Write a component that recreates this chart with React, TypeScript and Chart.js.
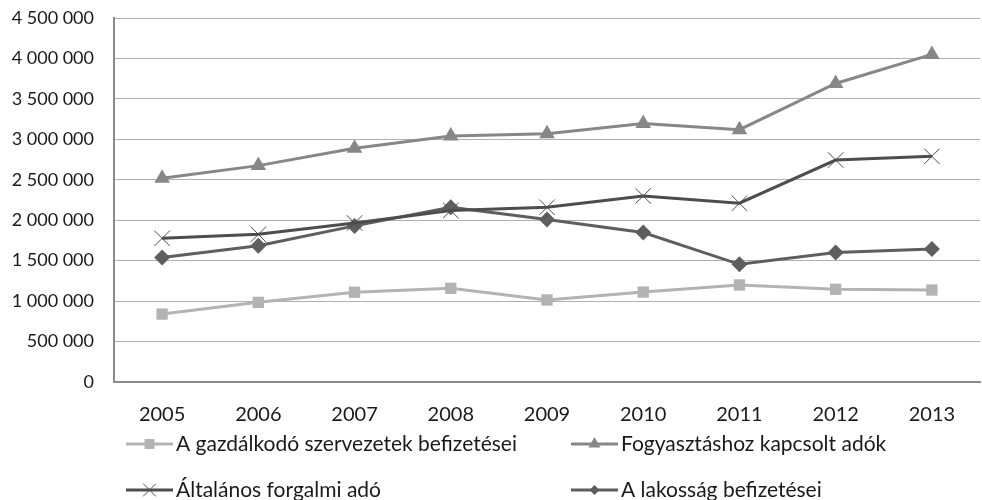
import React, { useEffect, useRef } from "react";
import { Chart, registerables } from "chart.js";

Chart.register(...registerables);

const years = ["2005", "2006", "2007", "2008", "2009", "2010", "2011", "2012", "2013"];
const gazdalkodo = [840000, 985000, 1110000, 1158000, 1014000, 1112000, 1200000, 1146000, 1137000];
const fogyasztas = [2520000, 2675000, 2890000, 3040000, 3070000, 3195000, 3120000, 3690000, 4050000];
const afa = [1776000, 1826000, 1965000, 2120000, 2160000, 2300000, 2210000, 2744000, 2790000];
const lakossag = [1540000, 1685000, 1930000, 2160000, 2010000, 1848000, 1455000, 1600000, 1645000];

const labels = [
  "A gazdálkodó szervezetek befizetései",
  "Fogyasztáshoz kapcsolt adók",
  "Általános forgalmi adó",
  "A lakosság befizetései",
];

const FONT = "Lato";

const fmt = (v: number) => String(v).replace(/\B(?=(\d{3})+(?!\d))/g, " ");

function drawPointShape(ctx: CanvasRenderingContext2D, style: string, x: number, y: number, r: number) {
  ctx.beginPath();
  if (style === "rect") {
    const s = r * Math.SQRT1_2;
    ctx.rect(x - s, y - s, 2 * s, 2 * s);
    ctx.fill();
  } else if (style === "triangle") {
    ctx.moveTo(x, y - r);
    ctx.lineTo(x + r * 0.866, y + r / 2);
    ctx.lineTo(x - r * 0.866, y + r / 2);
    ctx.closePath();
    ctx.fill();
  } else if (style === "rectRot") {
    const s = r * Math.SQRT1_2;
    ctx.moveTo(x - s, y);
    ctx.lineTo(x, y + s);
    ctx.lineTo(x + s, y);
    ctx.lineTo(x, y - s);
    ctx.closePath();
    ctx.fill();
  } else if (style === "crossRot") {
    const s = r * Math.SQRT1_2;
    ctx.moveTo(x - s, y - s);
    ctx.lineTo(x + s, y + s);
    ctx.moveTo(x - s, y + s);
    ctx.lineTo(x + s, y - s);
    ctx.stroke();
  }
}

const legendPlugin = {
  id: "gridLegend",
  afterDraw(chart: any) {
    const { ctx, chartArea } = chart;
    const cols = [chartArea.left + 12, chartArea.left + 457];
    const rows = [chartArea.bottom + 62, chartArea.bottom + 108];
    ctx.save();
    chart.data.datasets.forEach((ds: any, i: number) => {
      const x = cols[i % 2];
      const y = rows[Math.floor(i / 2)];
      const lineLen = 47;
      ctx.strokeStyle = ds.borderColor;
      ctx.lineWidth = 3;
      ctx.beginPath();
      ctx.moveTo(x, y);
      ctx.lineTo(x + lineLen, y);
      ctx.stroke();
      const style = ds.pointStyle;
      ctx.fillStyle = ds.pointBackgroundColor;
      ctx.strokeStyle = ds.pointBorderColor;
      ctx.lineWidth = 1;
      const r = style === "crossRot" ? 9 : 7;
      drawPointShape(ctx, style, x + lineLen / 2, y, r);
      ctx.fillStyle = "#1a1a1a";
      ctx.font = `21px ${FONT}`;
      ctx.textBaseline = "middle";
      ctx.textAlign = "left";
      ctx.fillText(ds.label, x + lineLen + 3, y);
    });
    ctx.restore();
  },
};

export default function App() {
  const ref = useRef<HTMLCanvasElement | null>(null);
  useEffect(() => {
    if (!ref.current) return;
    const chart = new Chart(ref.current, {
      type: "line",
      data: {
        labels: years,
        datasets: [
          {
            label: labels[0],
            data: gazdalkodo,
            borderColor: "#b3b3b3",
            backgroundColor: "#b3b3b3",
            pointBackgroundColor: "#b3b3b3",
            pointBorderColor: "#b3b3b3",
            pointStyle: "rect",
            pointRadius: 8,
            pointBorderWidth: 0,
            borderWidth: 3,
          },
          {
            label: labels[1],
            data: fogyasztas,
            borderColor: "#878787",
            backgroundColor: "#878787",
            pointBackgroundColor: "#878787",
            pointBorderColor: "#878787",
            pointStyle: "triangle",
            pointRadius: 9,
            pointBorderWidth: 0,
            borderWidth: 3,
          },
          {
            label: labels[2],
            data: afa,
            borderColor: "#4d4d4d",
            backgroundColor: "#4d4d4d",
            pointBackgroundColor: "#4d4d4d",
            pointBorderColor: "#4d4d4d",
            pointStyle: "crossRot",
            pointRadius: 11,
            pointBorderWidth: 1,
            borderWidth: 3,
          },
          {
            label: labels[3],
            data: lakossag,
            borderColor: "#5e5e5e",
            backgroundColor: "#5e5e5e",
            pointBackgroundColor: "#5e5e5e",
            pointBorderColor: "#5e5e5e",
            pointStyle: "rectRot",
            pointRadius: 8,
            pointBorderWidth: 0,
            borderWidth: 3,
          },
        ] as any,
      },
      options: {
        animation: false,
        responsive: false,
        layout: { padding: { top: 18, right: 0, bottom: 0, left: 0 } },
        plugins: {
          legend: { display: false },
          tooltip: { enabled: false },
        },
        scales: {
          x: {
            offset: true,
            grid: { display: false },
            border: { display: true, color: "#8a8a8a", width: 2 },
            ticks: { color: "#1a1a1a", font: { family: FONT, size: 20 }, padding: 13, maxRotation: 0 },
            afterFit: (s: any) => {
              s.height = 118;
            },
          },
          y: {
            min: 0,
            max: 4500000,
            grid: { color: "#b0b0b0", lineWidth: 1, drawTicks: false },
            border: { display: true, color: "#8a8a8a", width: 2 },
            ticks: {
              stepSize: 500000,
              color: "#1a1a1a",
              font: { family: FONT, size: 18 },
              padding: 20,
              callback: (v: any) => fmt(Number(v)),
            },
            afterFit: (s: any) => {
              s.width = 114;
              s.paddingTop = 0;
              s.paddingBottom = 0;
            },
          },
        },
      } as any,
      plugins: [legendPlugin],
    });
    return () => chart.destroy();
  }, []);
  return (
    <div style={{ position: "fixed", left: 0, top: 0, width: 982, height: 500, overflow: "hidden", background: "#fff" }}>
      <canvas ref={ref} width={992} height={500} style={{ display: "block" }} />
    </div>
  );
}
